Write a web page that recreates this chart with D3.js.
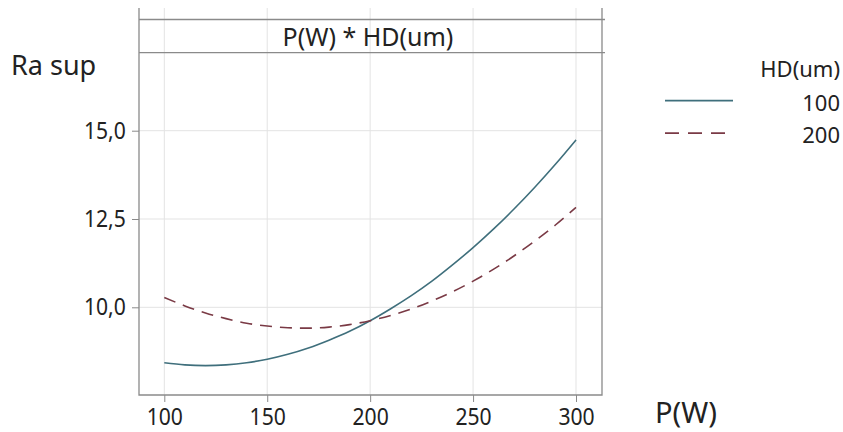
<!DOCTYPE html>
<html>
<head>
<meta charset="utf-8">
<script src="https://cdn.jsdelivr.net/npm/d3@7"></script>
<style>
  body { margin: 0; background: #ffffff; }
  text { font-family: "Noto Sans", "Open Sans", sans-serif; fill: #222222; }
</style>
</head>
<body>
<div id="chart"></div>
<script>
// power values (x) and fitted Ra sup
let power = [100, 110, 120, 130, 140, 150, 160, 170, 180, 190, 200, 210, 220, 230, 240, 250, 260, 270, 280, 290, 300]
let hd100 = [8.43, 8.37, 8.35, 8.37, 8.43, 8.53, 8.67, 8.85, 9.07, 9.32, 9.62, 9.96, 10.33, 10.74, 11.20, 11.69, 12.22, 12.79, 13.40, 14.05, 14.74]
let hd200 = [10.28, 10.04, 9.84, 9.68, 9.55, 9.47, 9.42, 9.41, 9.44, 9.51, 9.62, 9.77, 9.95, 10.18, 10.44, 10.74, 11.08, 11.46, 11.88, 12.33, 12.83]
let xTicks = [100, 150, 200, 250, 300]
let yTicks = [10, 12.5, 15]
let legendKeys = ["100", "200"]

var width = 843, height = 432

var frame = {left: 139, right: 602, top: 8, bottom: 395, stripTop: 19.5, stripBottom: 52.7}

var svg = d3.select("#chart")
  .append("svg")
  .attr("width", width)
  .attr("height", height)

var x = d3.scaleLinear()
  .domain([100, 300])
  .range([164.3, 576])

var y = d3.scaleLinear()
  .domain([10, 15])
  .range([307.3, 130.7])

var fmt = d => d3.format(".1f")(d).replace(".", ",")

// gridlines
svg.append("g")
  .selectAll("line")
  .data(xTicks)
  .join("line")
  .attr("x1", d => x(d)).attr("x2", d => x(d))
  .attr("y1", frame.top).attr("y2", frame.bottom)
  .attr("stroke", "#e3e3e3")
  .attr("stroke-width", 1)

svg.append("g")
  .selectAll("line")
  .data(yTicks)
  .join("line")
  .attr("x1", frame.left).attr("x2", frame.right)
  .attr("y1", d => y(d)).attr("y2", d => y(d))
  .attr("stroke", "#e3e3e3")
  .attr("stroke-width", 1)

// axes (labels slightly condensed like the original)
svg.append("g")
  .attr("transform", "translate(0," + frame.bottom + ")")
  .call(d3.axisBottom(x).tickValues(xTicks).tickSize(7).tickPadding(6).tickFormat(d3.format("d")))
  .call(g => g.select(".domain").remove())
  .call(g => g.selectAll("line").attr("stroke", "#8a8a8a"))
  .call(g => g.selectAll("text")
    .style("font-size", "24px")
    .attr("fill", "#1a1a1a")
    .attr("transform", "scale(0.88,1)"))

svg.append("g")
  .attr("transform", "translate(" + frame.left + ",0)")
  .call(d3.axisLeft(y).tickValues(yTicks).tickSize(7).tickPadding(8).tickFormat(fmt))
  .call(g => g.select(".domain").remove())
  .call(g => g.selectAll("line").attr("stroke", "#8a8a8a"))
  .call(g => g.selectAll("text")
    .style("font-size", "24px")
    .attr("fill", "#1a1a1a")
    .attr("transform", "scale(0.88,1)"))

// frame and strip
svg.append("path")
  .attr("d", "M" + frame.left + "," + frame.top + "V" + frame.bottom + "H" + frame.right + "V" + frame.top)
  .attr("fill", "none")
  .attr("stroke", "#8a8a8a")
  .attr("stroke-width", 1.3)

svg.append("g")
  .selectAll("line")
  .data([frame.stripTop, frame.stripBottom])
  .join("line")
  .attr("x1", frame.left).attr("x2", frame.right + 3)
  .attr("y1", d => d).attr("y2", d => d)
  .attr("stroke", "#8a8a8a")
  .attr("stroke-width", 1.3)

svg.append("text")
  .attr("x", 368)
  .attr("y", 46)
  .attr("text-anchor", "middle")
  .style("font-size", "25px")
  .text("P(W) * HD(um)")

// curves
var line = d3.line()
  .x((d, i) => x(power[i]))
  .y(d => y(d))
  .curve(d3.curveMonotoneX)

svg.append("path")
  .attr("d", line(hd100))
  .attr("fill", "none")
  .attr("stroke", "#3f6f7c")
  .attr("stroke-width", 1.6)

svg.append("path")
  .attr("d", line(hd200))
  .attr("fill", "none")
  .attr("stroke", "#7a3a45")
  .attr("stroke-width", 1.6)
  .attr("stroke-dasharray", "12,8")

// axis titles
svg.append("text")
  .attr("x", 11)
  .attr("y", 75)
  .style("font-size", "27px")
  .text("Ra sup")

svg.append("text")
  .attr("x", 655)
  .attr("y", 423)
  .style("font-size", "29px")
  .text("P(W)")

// legend
svg.append("text")
  .attr("x", 840)
  .attr("y", 77)
  .attr("text-anchor", "end")
  .style("font-size", "22px")
  .text("HD(um)")

var legendStyle = [{color: "#3f6f7c", dash: null}, {color: "#7a3a45", dash: "14,9"}]

legendKeys.forEach(function(k, i) {
  svg.append("line")
    .attr("x1", 665).attr("x2", 733)
    .attr("y1", 100.7 + i * 32.5).attr("y2", 100.7 + i * 32.5)
    .attr("stroke", legendStyle[i].color)
    .attr("stroke-width", 1.8)
    .attr("stroke-dasharray", legendStyle[i].dash)
  svg.append("text")
    .attr("x", 840)
    .attr("y", 111 + i * 32)
    .attr("text-anchor", "end")
    .style("font-size", "22px")
    .text(k)
})
</script>
</body>
</html>
